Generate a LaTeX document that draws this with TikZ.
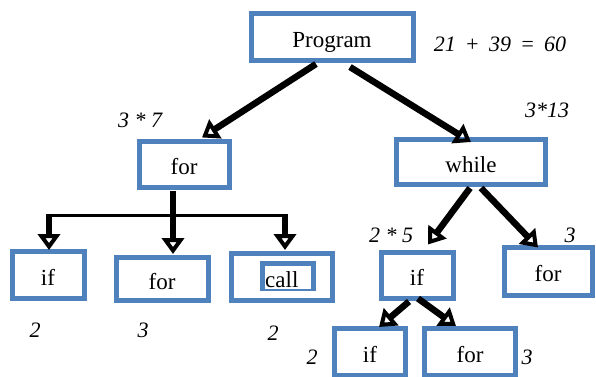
\documentclass[tikz,border=0pt]{standalone}
\usepackage{fontspec}
\setmainfont{Liberation Serif}
\usetikzlibrary{arrows.meta}
\definecolor{boxblue}{HTML}{4F81BD}
\begin{document}
\begin{tikzpicture}[x=1pt,y=-1pt,
  box/.style={draw=boxblue,line width=5pt,fill=white,inner sep=0pt,text height=20pt,text depth=0pt,font=\fontsize{23}{26}\selectfont},
  lbl/.style={font=\fontsize{22}{24}\selectfont\itshape,inner sep=0pt},
  arr/.style={line width=6.5pt,-{Triangle[open,length=16pt,width=22pt,line width=5pt]}}]
\useasboundingbox (0,0) rectangle (596,376);
\clip (0,0) rectangle (596,376);
\fill[white] (0,0) rectangle (596,376);
% boxes
\node[box,minimum width=162pt,minimum height=47pt] (prog) at (332,37) {Program};
\node[box,minimum width=90pt,minimum height=46pt] (forL) at (184,164) {for};
\node[box,minimum width=149pt,minimum height=45pt] (while) at (471,162) {while};
\node[box,minimum width=72pt,minimum height=47pt] (if1) at (48,275) {if};
\node[box,minimum width=92pt,minimum height=43pt] (for2) at (162,279) {for};
\node[box,minimum width=101pt,minimum height=47pt] (call) at (282,277) {};
\node[box,minimum width=51pt,minimum height=25pt] (callin) at (288,276) {};
\node[font=\fontsize{23}{26}\selectfont,fill=white,inner sep=0pt,text height=19pt,text depth=2pt,text width=46pt,align=left,anchor=base west] (calltxt) at (265,287) {call};
\node[box,minimum width=72pt,minimum height=46pt] (if2) at (417,275) {if};
\node[box,minimum width=88pt,minimum height=48pt] (forR) at (548,271) {for};
\node[box,minimum width=71pt,minimum height=47pt] (if3) at (370,352) {if};
\node[box,minimum width=91pt,minimum height=47pt] (for3) at (470,352) {for};
% labels
\node[lbl] (l0) at (500,44) {21 \,+\, 39 \,=\, 60};
\node[lbl] (l1) at (140,120) {3 * 7};
\node[lbl] (l2) at (547,110) {3*13};
\node[lbl] (l3) at (391,235) {2 * 5};
\node[lbl] (l4) at (570,235) {3};
\node[lbl] (l5) at (35,330) {2};
\node[lbl] (l6) at (143,330) {3};
\node[lbl] (l7) at (273,333) {2};
\node[lbl] (l8) at (312,357) {2};
\node[lbl] (l9) at (527,357) {3};
% connectors
\draw[arr] ([xshift=-16pt,yshift=-1pt]prog.south) -- ([xshift=18pt,yshift=1pt]forL.north);
\draw[arr] ([xshift=18pt,yshift=-4pt]prog.south) -- ([xshift=0pt,yshift=-5pt]while.north);
\coordinate (bar) at (0,215);
\draw[line width=3pt] ([xshift=1pt]if1.north |- bar) -- ([xshift=3pt]call.north |- bar);
\draw[arr] ([xshift=-11pt,yshift=-1pt]forL.south) -- ([xshift=11pt,yshift=1pt]for2.north);
\draw[arr] ([xshift=1pt,yshift=1.5pt]if1.north |- bar) -- ([xshift=1pt,yshift=-1pt]if1.north);
\draw[arr] ([xshift=3pt,yshift=1.5pt]call.north |- bar) -- ([xshift=3pt,yshift=1pt]call.north);
\draw[arr] ([xshift=-1pt,yshift=-1pt]while.south) -- ([xshift=11pt,yshift=5pt]if2.north);
\draw[arr] ([xshift=10pt,yshift=-1pt]while.south) -- ([xshift=-10pt,yshift=-3pt]forR.north);
\draw[arr] ([xshift=-8pt,yshift=-1pt]if2.south) -- ([xshift=9pt,yshift=-1pt]if3.north);
\draw[arr] ([xshift=1pt,yshift=2pt]if2.south) -- ([xshift=-14pt,yshift=0pt]for3.north);
\end{tikzpicture}
\end{document}
